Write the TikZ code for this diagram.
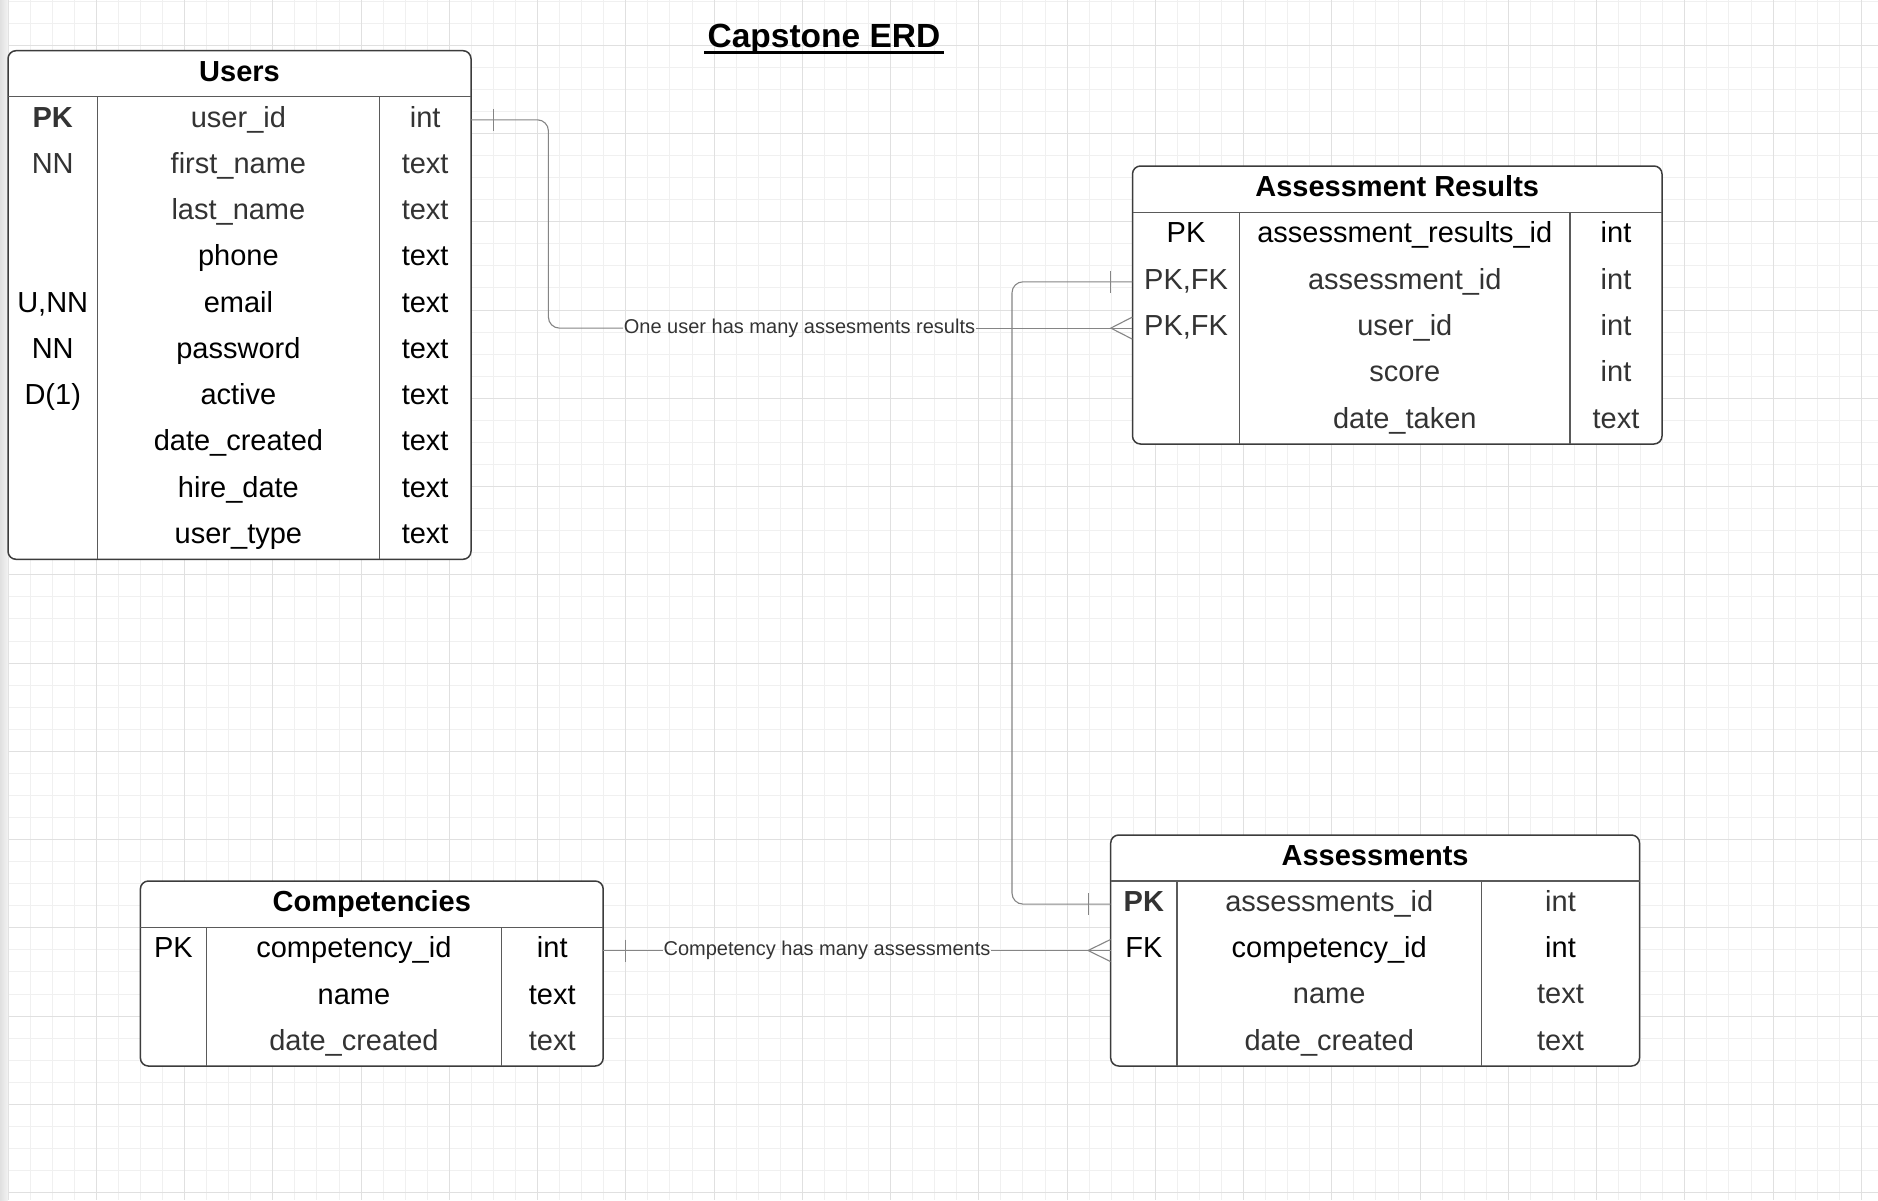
\documentclass[tikz,border=0pt]{standalone}
\usepackage{fontspec}
\setmainfont{Liberation Sans}
\definecolor{gminor}{HTML}{F0F0F0}
\definecolor{gmajor}{HTML}{E0E0E0}
\definecolor{tborder}{HTML}{3C3C3C}
\definecolor{tsep}{HTML}{5A5A5A}
\definecolor{tdark}{HTML}{333333}
\definecolor{relc}{HTML}{858585}
\definecolor{labc}{HTML}{333333}
\definecolor{stripL}{HTML}{E0E0E0}
\definecolor{stripR}{HTML}{F3F3F3}
\tikzset{
 tbl/.style={draw=tborder, line width=1.5pt, fill=white, rounded corners=8pt, inner sep=0},
 tsepline/.style={draw=tsep, line width=1.3pt},
 cell/.style={anchor=base, inner sep=0, font=\fontsize{29}{34}\selectfont},
 hdr/.style={anchor=base, inner sep=0, text=black, font=\fontsize{29}{34}\selectfont\bfseries},
 gr/.style={text=tdark},
 bk/.style={text=black},
 rowbox/.style={inner sep=0, minimum height=46pt},
 rel/.style={draw=relc, line width=1.1pt},
 lab/.style={inner sep=0.5pt, text=labc, font=\fontsize{20}{24}\selectfont},
 gridminor/.style={draw=gminor, line width=1pt},
 gridmajor/.style={draw=gmajor, line width=1.1pt},
}
% #1 name, #2 row centre y, #3 x key, #4 x field, #5 x type, #6 colour style, #7 key, #8 field, #9 type
\newcommand\erdrow[9]{%
 \node[cell,#6] (#1k) at (#3,#2+7.2) {#7};
 \node[cell,#6] (#1f) at (#4,#2+7.2) {#8};
 \node[cell,#6] (#1t) at (#5,#2+7.2) {#9};}
% row without key: #1 name, #2 y, #3 x field, #4 x type, #5 style, #6 field, #7 type
\newcommand\erdrowb[7]{%
 \node[cell,#5] (#1f) at (#3,#2+7.2) {#6};
 \node[cell,#5] (#1t) at (#4,#2+7.2) {#7};}
\begin{document}
\begin{tikzpicture}[x=1pt,y=-1pt]
\useasboundingbox (0,0) rectangle (1878,1200);
\fill[white] (0,0) rectangle (1878,1200);
% grid
\foreach \k in {0,...,85} \draw[gridminor] ({8.06+22.0625*\k},0) -- ({8.06+22.0625*\k},1200);
\foreach \k in {0,...,54} \draw[gridminor] (8,{1.18+22.0625*\k}) -- (1878,{1.18+22.0625*\k});
\foreach \k in {0,...,21} \draw[gridmajor] ({8.06+88.25*\k},0) -- ({8.06+88.25*\k},1200);
\foreach \k in {0,...,13} \draw[gridmajor] (8,{45.3+88.25*\k}) -- (1878,{45.3+88.25*\k});
\shade[left color=stripL, right color=stripR] (0,0) rectangle (8,1200);

% title
\node[anchor=base, inner sep=0, font=\fontsize{33.5}{40}\selectfont\bfseries] (title) at (824,47.5) {Capstone ERD};
\draw[line width=2.7pt] ([xshift=-3pt,yshift=-5pt]title.base west) -- ([xshift=3pt,yshift=-5pt]title.base east);

% ---------- Users ----------
\node[tbl, minimum width=463pt, minimum height=508.6pt] (users) at (239.5,305) {};
\draw[tsepline] (8,96.7) -- (471,96.7);
\draw[tsepline] (97.5,96.7) -- (97.5,559.3);
\draw[tsepline] (379.3,96.7) -- (379.3,559.3);
\node[hdr] (users-h) at (239.5,81.2) {Users};
\erdrow{u1}{119.83}{52.75}{238.4}{425.15}{gr}{\bfseries PK}{user\_id}{int}
\erdrow{u2}{166.09}{52.75}{238.4}{425.15}{gr}{NN}{first\_name}{text}
\erdrowb{u3}{212.35}{238.4}{425.15}{gr}{last\_name}{text}
\erdrowb{u4}{258.61}{238.4}{425.15}{bk}{phone}{text}
\erdrow{u5}{304.87}{52.75}{238.4}{425.15}{bk}{U,NN}{email}{text}
\erdrow{u6}{351.13}{52.75}{238.4}{425.15}{bk}{NN}{password}{text}
\erdrow{u7}{397.39}{52.75}{238.4}{425.15}{bk}{D(1)}{active}{text}
\erdrowb{u8}{443.65}{238.4}{425.15}{bk}{date\_created}{text}
\erdrowb{u9}{489.91}{238.4}{425.15}{bk}{hire\_date}{text}
\erdrowb{u10}{536.17}{238.4}{425.15}{bk}{user\_type}{text}

% ---------- Assessment Results ----------
\node[tbl, minimum width=529.5pt, minimum height=278pt] (ar) at (1397.25,305) {};
\draw[tsepline] (1132.5,212.3) -- (1662,212.3);
\draw[tsepline] (1239.6,212.3) -- (1239.6,444);
\draw[tsepline] (1570,212.3) -- (1570,444);
\node[hdr] (ar-h) at (1397.25,196.65) {Assessment Results};
\erdrow{a1}{235.5}{1186.05}{1404.8}{1616}{bk}{PK}{assessment\_results\_id}{int}
\erdrow{a2}{281.8}{1186.05}{1404.8}{1616}{gr}{PK,FK}{assessment\_id}{int}
\erdrow{a3}{328.1}{1186.05}{1404.8}{1616}{gr}{PK,FK}{user\_id}{int}
\erdrowb{a4}{374.5}{1404.8}{1616}{gr}{score}{int}
\erdrowb{a5}{420.8}{1404.8}{1616}{gr}{date\_taken}{text}

% ---------- Competencies ----------
\node[tbl, minimum width=462.8pt, minimum height=185pt] (comp) at (371.8,973.5) {};
\draw[tsepline] (140.4,927.7) -- (603.2,927.7);
\draw[tsepline] (206.4,927.7) -- (206.4,1066);
\draw[tsepline] (501.4,927.7) -- (501.4,1066);
\node[hdr] (comp-h) at (371.8,911.85) {Competencies};
\erdrow{c1}{950.75}{173.4}{353.9}{552.3}{bk}{PK}{competency\_id}{int}
\erdrowb{c2}{996.85}{353.9}{552.3}{bk}{name}{text}
\erdrowb{c3}{1042.95}{353.9}{552.3}{gr}{date\_created}{text}

% ---------- Assessments ----------
\node[tbl, minimum width=528.8pt, minimum height=231pt] (asmt) at (1375.1,950.5) {};
\draw[tsepline] (1110.7,881) -- (1639.5,881);
\draw[tsepline] (1177,881) -- (1177,1066);
\draw[tsepline] (1481.5,881) -- (1481.5,1066);
\node[hdr] (asmt-h) at (1375.1,865.5) {Assessments};
\erdrow{s1}{904.1}{1143.85}{1329.25}{1560.5}{gr}{\bfseries PK}{assessments\_id}{int}
\erdrow{s2}{950.4}{1143.85}{1329.25}{1560.5}{bk}{FK}{competency\_id}{int}
\erdrowb{s3}{996.6}{1329.25}{1560.5}{gr}{name}{text}
\erdrowb{s4}{1042.9}{1329.25}{1560.5}{gr}{date\_created}{text}

% row anchors for connectors
\node[rowbox, minimum width=463pt] (u-uid) at (239.5,119.83) {};
\node[rowbox, minimum width=529.5pt] (ar-aid) at (1397.25,281.8) {};
\node[rowbox, minimum width=529.5pt] (ar-uid) at (1397.25,328.1) {};
\node[rowbox, minimum width=462.8pt] (cp-pk) at (371.8,950.5) {};
\node[rowbox, minimum width=528.8pt] (as-pk) at (1375.1,904.1) {};
\node[rowbox, minimum width=528.8pt] (as-fk) at (1375.1,950.5) {};

% ---------- connector 1: Users -> Assessment Results ----------
\coordinate (b1) at (548.4,220);
\node[lab] (lab1) at (799.5,328.1) {One user has many assesments results};
\draw[rel, rounded corners=11pt] (u-uid.east) -| (b1) |- (lab1.west);
\draw[rel] (lab1.east) -- (ar-uid.west);
\draw[rel] ([xshift=22.5pt]u-uid.east) ++(0,-11) -- ++(0,22);
\draw[rel] ([yshift=11pt]ar-uid.west) -- ([xshift=-21.5pt]ar-uid.west) -- ([yshift=-11pt]ar-uid.west);

% ---------- connector 2: Assessments -> Assessment Results ----------
\coordinate (b2) at (1012,600);
\draw[rel, rounded corners=11pt] (as-pk.west) -| (b2) |- (ar-aid.west);
\draw[rel] ([xshift=-22.4pt]as-pk.west) ++(0,-11) -- ++(0,22);
\draw[rel] ([xshift=-21.8pt]ar-aid.west) ++(0,-11) -- ++(0,22);

% ---------- connector 3: Competencies -> Assessments ----------
\node[lab] (lab2) at (827,950.5) {Competency has many assessments};
\draw[rel] (cp-pk.east) -- (lab2.west);
\draw[rel] (lab2.east) -- (as-fk.west);
\draw[rel] ([xshift=22.3pt]cp-pk.east) ++(0,-11) -- ++(0,22);
\draw[rel] ([yshift=11pt]as-fk.west) -- ([xshift=-22.5pt]as-fk.west) -- ([yshift=-11pt]as-fk.west);
\end{tikzpicture}
\end{document}
